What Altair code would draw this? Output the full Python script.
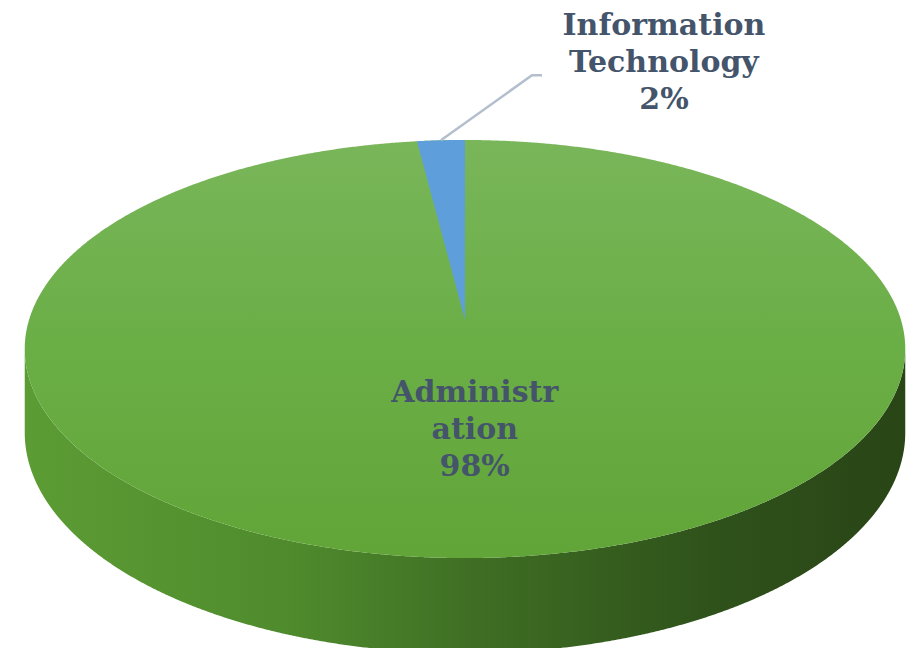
import numpy as np
import pandas as pd
import altair as alt

# ---- data ----
categories = ["Administration", "Information Technology"]
values = [98, 2]
label_names = ["Administr\nation", "Information\nTechnology"]
slice_colors = ["#6aab45", "#5e9fdb"]

# ---- layout of the tilted (3-D looking) pie, in page pixels ----
CX, CY0 = 465.0, 320.0      # projected centre of the pie
A, B = 436.0, 205.0         # horizontal / vertical radii
K = 0.1388                  # perspective factor
H = 82.0                    # thickness of the side
LINE_H = 37                 # label line height


def project(r, theta):
    u = r * np.sin(theta)
    v = r * np.cos(theta)
    d = 1 + K * v
    return CX + A * u / d, CY0 - B * v / d


total = float(sum(values))
fr = np.array(values) / total
ends = np.cumsum(fr) * 2 * np.pi
starts = ends - fr * 2 * np.pi
mids = (starts + ends) / 2
pcts = [f"{round(f * 100):.0f}%" for f in fr]

# top surface outline (projected circle) sampled along x
phi = np.linspace(np.pi, 0, 721)
Xmax = 1 / np.sqrt(1 - K ** 2)
Xn = np.cos(phi) * Xmax
disc = np.sqrt(np.clip(K ** 2 + (1 - K ** 2) * (1 - Xn ** 2), 0, None))
Yfar = (-K + disc) / (1 - K ** 2)
Ynear = (-K - disc) / (1 - K ** 2)
top_df = pd.DataFrame({
    "x": CX + A * Xn,
    "y_far": CY0 - B * Yfar,
    "y_near": CY0 - B * Ynear,
    "category": categories[0],
})
side_df = pd.DataFrame({
    "x": CX + A * Xn,
    "y_top": CY0 - B * Ynear,
    "y_bot": CY0 - B * Ynear + H * (1 - K * Ynear),
})

# small slice (Information Technology) as a wedge on the top surface
th = np.linspace(starts[1], ends[1], 80)
xr, yr = project(1.0, th)
xl, yl = project(1.0, starts[1])
y_line = CY0 + (yl - CY0) * (xr - CX) / (xl - CX)
wedge_df = pd.DataFrame({"x": xr, "y_rim": yr, "y_line": y_line,
                         "category": categories[1]})

# leader line for the small slice
sx, sy = project(1.0, mids[1])
leader_df = pd.DataFrame({
    "x": [sx, sx + 91, sx + 101],
    "y": [sy, sy - 65, sy - 65],
    "o": [0, 1, 2],
})

# labels (y is the centre of the first line)
ax, ay = project(0.5, mids[0])
label_df = pd.DataFrame({
    "x": [ax - 5, sx + 223],
    "y": [ay - 37, sy - 114],
    "text": [label_names[0] + "\n" + pcts[0], label_names[1] + "\n" + pcts[1]],
})

xs = alt.Scale(domain=[8, 907], nice=False, zero=False)
ys = alt.Scale(domain=[8, 648], nice=False, zero=False, reverse=True)


def X(f):
    return alt.X(f, type="quantitative", scale=xs, axis=None)


def Y(f):
    return alt.Y(f, type="quantitative", scale=ys, axis=None)


side_grad = alt.Gradient(
    gradient="linear",
    stops=[
        alt.GradientStop(color="#5c9c34", offset=0),
        alt.GradientStop(color="#4f8b2d", offset=0.3),
        alt.GradientStop(color="#3e6d23", offset=0.52),
        alt.GradientStop(color="#2f521b", offset=0.78),
        alt.GradientStop(color="#294516", offset=1),
    ],
    x1=0, x2=1, y1=0, y2=0,
)
top_grad = alt.Gradient(
    gradient="linear",
    stops=[
        alt.GradientStop(color="#79b65a", offset=0),
        alt.GradientStop(color="#6aae46", offset=0.5),
        alt.GradientStop(color="#61a538", offset=1),
    ],
    x1=0, x2=0, y1=0, y2=1,
)

side = alt.Chart(side_df).mark_area(orient="vertical", color=side_grad).encode(
    x=X("x"), y=Y("y_top"), y2=alt.Y2("y_bot"))

top = alt.Chart(top_df).mark_area(orient="vertical", color=top_grad).encode(
    x=X("x"), y=Y("y_far"), y2=alt.Y2("y_near"))

wedge = alt.Chart(wedge_df).mark_area(orient="vertical", color=slice_colors[1]).encode(
    x=X("x"), y=Y("y_rim"), y2=alt.Y2("y_line"))

leader = alt.Chart(leader_df).mark_line(color="#b3bfcd", strokeWidth=2.5).encode(
    x=X("x"), y=Y("y"), order="o:Q")

labels = alt.Chart(label_df).mark_text(
    font="DejaVu Serif", fontWeight="bold", fontSize=30, lineHeight=LINE_H,
    color="#44546a", align="center", baseline="middle", lineBreak="\n",
).encode(x=X("x"), y=Y("y"), text="text:N")

chart = (side + top + wedge + leader + labels).properties(
    width=899, height=640, padding=0, autosize=alt.AutoSizeParams(type="none"),
    background="white",
).configure_view(strokeWidth=0)

chart.save("out.html", embed_options={"renderer": "svg", "actions": False})
